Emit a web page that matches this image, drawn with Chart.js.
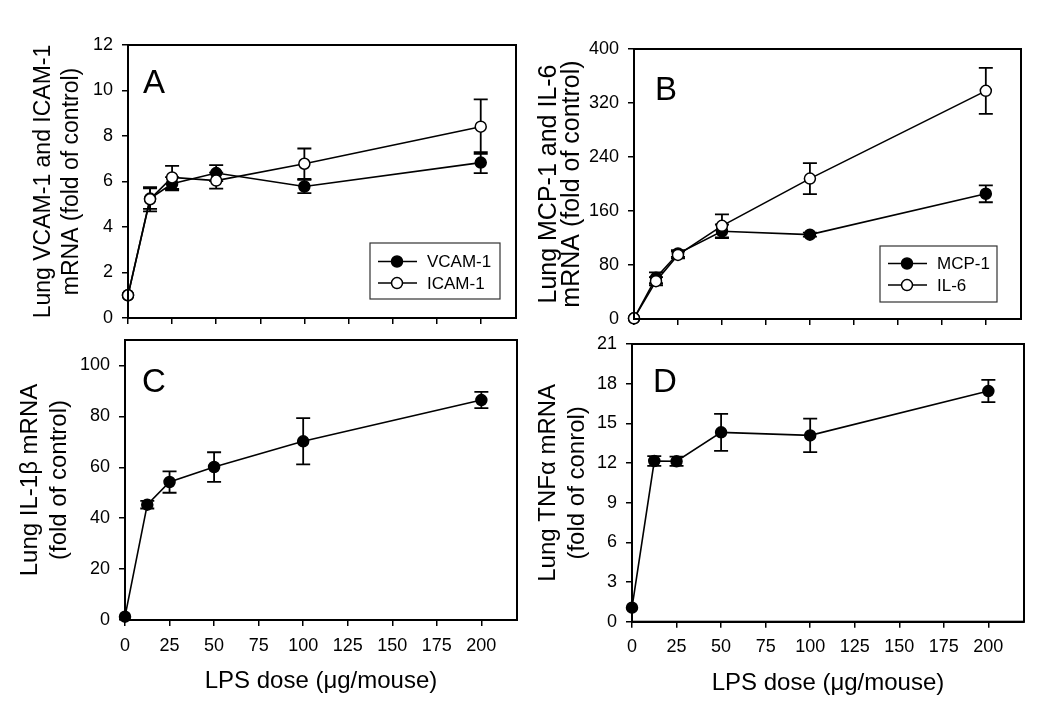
<!DOCTYPE html>
<html>
<head>
<meta charset="utf-8">
<script src="https://cdn.jsdelivr.net/npm/chart.js@4.4.1/dist/chart.umd.min.js"></script>
<style>
  html, body { margin: 0; padding: 0; background: #fff; }
  #wrap { position: relative; width: 1050px; height: 724px; background: #fff; overflow: hidden; }
  canvas { position: absolute; }
</style>
</head>
<body>
<div id="wrap">
  <canvas id="cA" width="525" height="345" style="left:0;top:0"></canvas>
  <canvas id="cB" width="525" height="345" style="left:525px;top:0"></canvas>
  <canvas id="cC" width="525" height="404" style="left:0;top:320px"></canvas>
  <canvas id="cD" width="525" height="404" style="left:525px;top:320px"></canvas>
</div>
<script>
// ---------- data ----------
const doses = [0, 12.5, 25, 50, 100, 200];

const vcam    = [1.0, 5.25, 5.90, 6.37, 5.78, 6.83];
const vcamErr = [0, 0.45, 0.29, 0.35, 0.29, 0.46];
const icam    = [1.0, 5.22, 6.18, 6.04, 6.78, 8.41];
const icamErr = [0, 0.53, 0.51, 0.35, 0.67, 1.20];

const mcp1    = [1, 61, 97, 130, 125, 185.5];
const mcp1Err = [0, 8, 5, 10, 3, 12.5];
const il6     = [1, 56, 95, 138, 208, 338];
const il6Err  = [0, 6, 5, 17, 23, 34];

const il1b    = [1.3, 45.3, 54.2, 60.1, 70.2, 86.4];
const il1bErr = [0, 1.5, 4.2, 5.8, 9.1, 3.2];

const tnfa    = [1.06, 12.15, 12.13, 14.32, 14.09, 17.44];
const tnfaErr = [0, 0.37, 0.35, 1.40, 1.26, 0.84];

const xTicks  = [0, 25, 50, 75, 100, 125, 150, 175, 200];
const yTicksA = [0, 2, 4, 6, 8, 10, 12];
const yTicksB = [0, 80, 160, 240, 320, 400];
const yTicksC = [0, 20, 40, 60, 80, 100];
const yTicksD = [0, 3, 6, 9, 12, 15, 18, 21];

const xTitle = 'LPS dose (\u03bcg/mouse)';
const FONT = '"Liberation Sans", Arial, Helvetica, sans-serif';

// ---------- plugin: error bars, frame, panel letter, legend ----------
const panelPlugin = {
  id: 'panel',
  beforeDatasetsDraw(chart) {
    const {ctx, scales: {x, y}} = chart;
    ctx.save();
    ctx.strokeStyle = '#000';
    ctx.lineWidth = 1.8;
    chart.data.datasets.forEach(ds => {
      (ds.errors || []).forEach((e, i) => {
        if (!e) return;
        const pt = ds.data[i];
        const px = x.getPixelForValue(pt.x);
        const t = y.getPixelForValue(pt.y + e);
        const b = y.getPixelForValue(pt.y - e);
        ctx.beginPath();
        ctx.moveTo(px, t); ctx.lineTo(px, b);
        ctx.moveTo(px - 7, t); ctx.lineTo(px + 7, t);
        ctx.moveTo(px - 7, b); ctx.lineTo(px + 7, b);
        ctx.stroke();
      });
    });
    ctx.restore();
  },
  afterDraw(chart, args, opts) {
    const {ctx, chartArea: a} = chart;
    ctx.save();
    ctx.strokeStyle = '#000';
    ctx.lineWidth = 2;
    ctx.strokeRect(a.left, a.top, a.right - a.left, a.bottom - a.top);
    ctx.fillStyle = '#000';
    ctx.font = '33px ' + FONT;
    ctx.textAlign = 'left';
    ctx.textBaseline = 'alphabetic';
    ctx.fillText(opts.letter, opts.letterX, opts.letterY);
    const L = opts.legend;
    if (L) {
      ctx.fillStyle = '#fff';
      ctx.fillRect(L.x, L.y, L.w, L.h);
      ctx.strokeStyle = '#333';
      ctx.lineWidth = 1.2;
      ctx.strokeRect(L.x, L.y, L.w, L.h);
      chart.data.datasets.forEach((ds, i) => {
        const ry = L.y + L.row0 + i * L.rowGap;
        ctx.strokeStyle = '#000';
        ctx.lineWidth = 1.5;
        ctx.beginPath();
        ctx.moveTo(L.x + 8, ry); ctx.lineTo(L.x + 47, ry);
        ctx.stroke();
        ctx.beginPath();
        ctx.arc(L.x + 27, ry, 5.5, 0, Math.PI * 2);
        ctx.fillStyle = ds.pointBackgroundColor;
        ctx.fill();
        ctx.stroke();
        ctx.fillStyle = '#000';
        ctx.font = '17px ' + FONT;
        ctx.textAlign = 'left';
        ctx.textBaseline = 'middle';
        ctx.fillText(ds.label, L.x + 57, ry + 1);
      });
    }
    ctx.restore();
  }
};

function makeDataset(label, values, errors, filled) {
  return {
    label: label,
    data: doses.map((d, i) => ({x: d, y: values[i]})),
    errors: errors,
    showLine: true,
    tension: 0,
    clip: false,
    borderColor: '#000',
    borderWidth: 1.6,
    pointRadius: 5.5,
    pointHoverRadius: 5.5,
    pointBorderWidth: 1.5,
    pointBorderColor: '#000',
    pointBackgroundColor: filled ? '#000' : '#fff',
    order: filled ? 2 : 1
  };
}

function makeChart(id, p) {
  return new Chart(document.getElementById(id), {
    type: 'scatter',
    data: { datasets: p.datasets },
    options: {
      responsive: false,
      animation: false,
      devicePixelRatio: 1,
      events: [],
      layout: { padding: { left: 0, top: p.top, right: p.right, bottom: 0 } },
      plugins: {
        legend: { display: false },
        tooltip: { enabled: false },
        panel: { letter: p.letter, letterX: p.letterX, letterY: p.letterY, legend: p.legend }
      },
      scales: {
        x: {
          type: 'linear', position: 'bottom', min: 0, max: 220,
          afterBuildTicks: s => { s.ticks = xTicks.map(v => ({value: v})); },
          afterFit: s => { s.height = p.xh; },
          grid: { drawOnChartArea: false, color: '#000', lineWidth: 1.5, tickLength: 6 },
          border: { color: '#000', width: 2 },
          ticks: {
            color: '#000', padding: 9, maxRotation: 0, autoSkip: false,
            font: { family: FONT, size: 18 },
            callback: v => p.xLabels ? String(v) : ''
          },
          title: p.xLabels ? {
            display: true, text: xTitle, color: '#000',
            font: { family: FONT, size: 24, lineHeight: 1.2 },
            padding: { top: 0, bottom: p.xTitlePad }
          } : { display: false }
        },
        y: {
          type: 'linear', position: 'left', min: 0, max: p.yMax,
          afterBuildTicks: s => { s.ticks = p.yTicks.map(v => ({value: v})); },
          afterFit: s => { s.width = p.yw; },
          grid: { drawOnChartArea: false, color: '#000', lineWidth: 1.5, tickLength: 6 },
          border: { color: '#000', width: 2 },
          ticks: {
            color: '#000', padding: 9, autoSkip: false,
            font: { family: FONT, size: 18 },
            callback: v => String(v)
          },
          title: {
            display: true, text: p.yTitle, color: '#000',
            font: { family: FONT, size: p.yTitleSize, lineHeight: p.yTitleLH },
            padding: { top: p.yTitlePad, bottom: 0 }
          }
        }
      }
    },
    plugins: [panelPlugin]
  });
}

makeChart('cA', {
  datasets: [makeDataset('VCAM-1', vcam, vcamErr, true), makeDataset('ICAM-1', icam, icamErr, false)],
  top: 45, right: 9, yw: 128, xh: 27, yMax: 12, yTicks: yTicksA,
  yTitle: ['Lung VCAM-1 and ICAM-1', 'mRNA (fold of control)'],
  yTitleSize: 23, yTitleLH: '28px', yTitlePad: 29.3,
  xLabels: false,
  letter: 'A', letterX: 143, letterY: 93,
  legend: { x: 370, y: 243, w: 130, h: 56, row0: 18.5, rowGap: 21.6 }
});

makeChart('cB', {
  datasets: [makeDataset('MCP-1', mcp1, mcp1Err, true), makeDataset('IL-6', il6, il6Err, false)],
  top: 49, right: 29, yw: 109, xh: 26, yMax: 400, yTicks: yTicksB,
  yTitle: ['Lung MCP-1 and IL-6', 'mRNA (fold of control)'],
  yTitleSize: 25, yTitleLH: '23px', yTitlePad: 12.2,
  xLabels: false,
  letter: 'B', letterX: 130, letterY: 100,
  legend: { x: 355, y: 246, w: 117, h: 56, row0: 17.5, rowGap: 21.6 }
});

makeChart('cC', {
  datasets: [makeDataset('IL-1\u03b2', il1b, il1bErr, true)],
  top: 20, right: 8, yw: 125, xh: 104, yMax: 110, yTicks: yTicksC,
  yTitle: ['Lung IL-1\u03b2 mRNA', '(fold of control)'],
  yTitleSize: 24, yTitleLH: '29px', yTitlePad: 15.6,
  xLabels: true, xTitlePad: 27.9,
  letter: 'C', letterX: 142, letterY: 72,
  legend: null
});

makeChart('cD', {
  datasets: [makeDataset('TNF\u03b1', tnfa, tnfaErr, true)],
  top: 24, right: 26, yw: 107, xh: 102.3, yMax: 21, yTicks: yTicksD,
  yTitle: ['Lung TNF\u03b1 mRNA', '(fold of conrol)'],
  yTitleSize: 24, yTitleLH: '29px', yTitlePad: 8.9,
  xLabels: true, xTitlePad: 26.3,
  letter: 'D', letterX: 128, letterY: 72,
  legend: null
});
</script>
</body>
</html>
